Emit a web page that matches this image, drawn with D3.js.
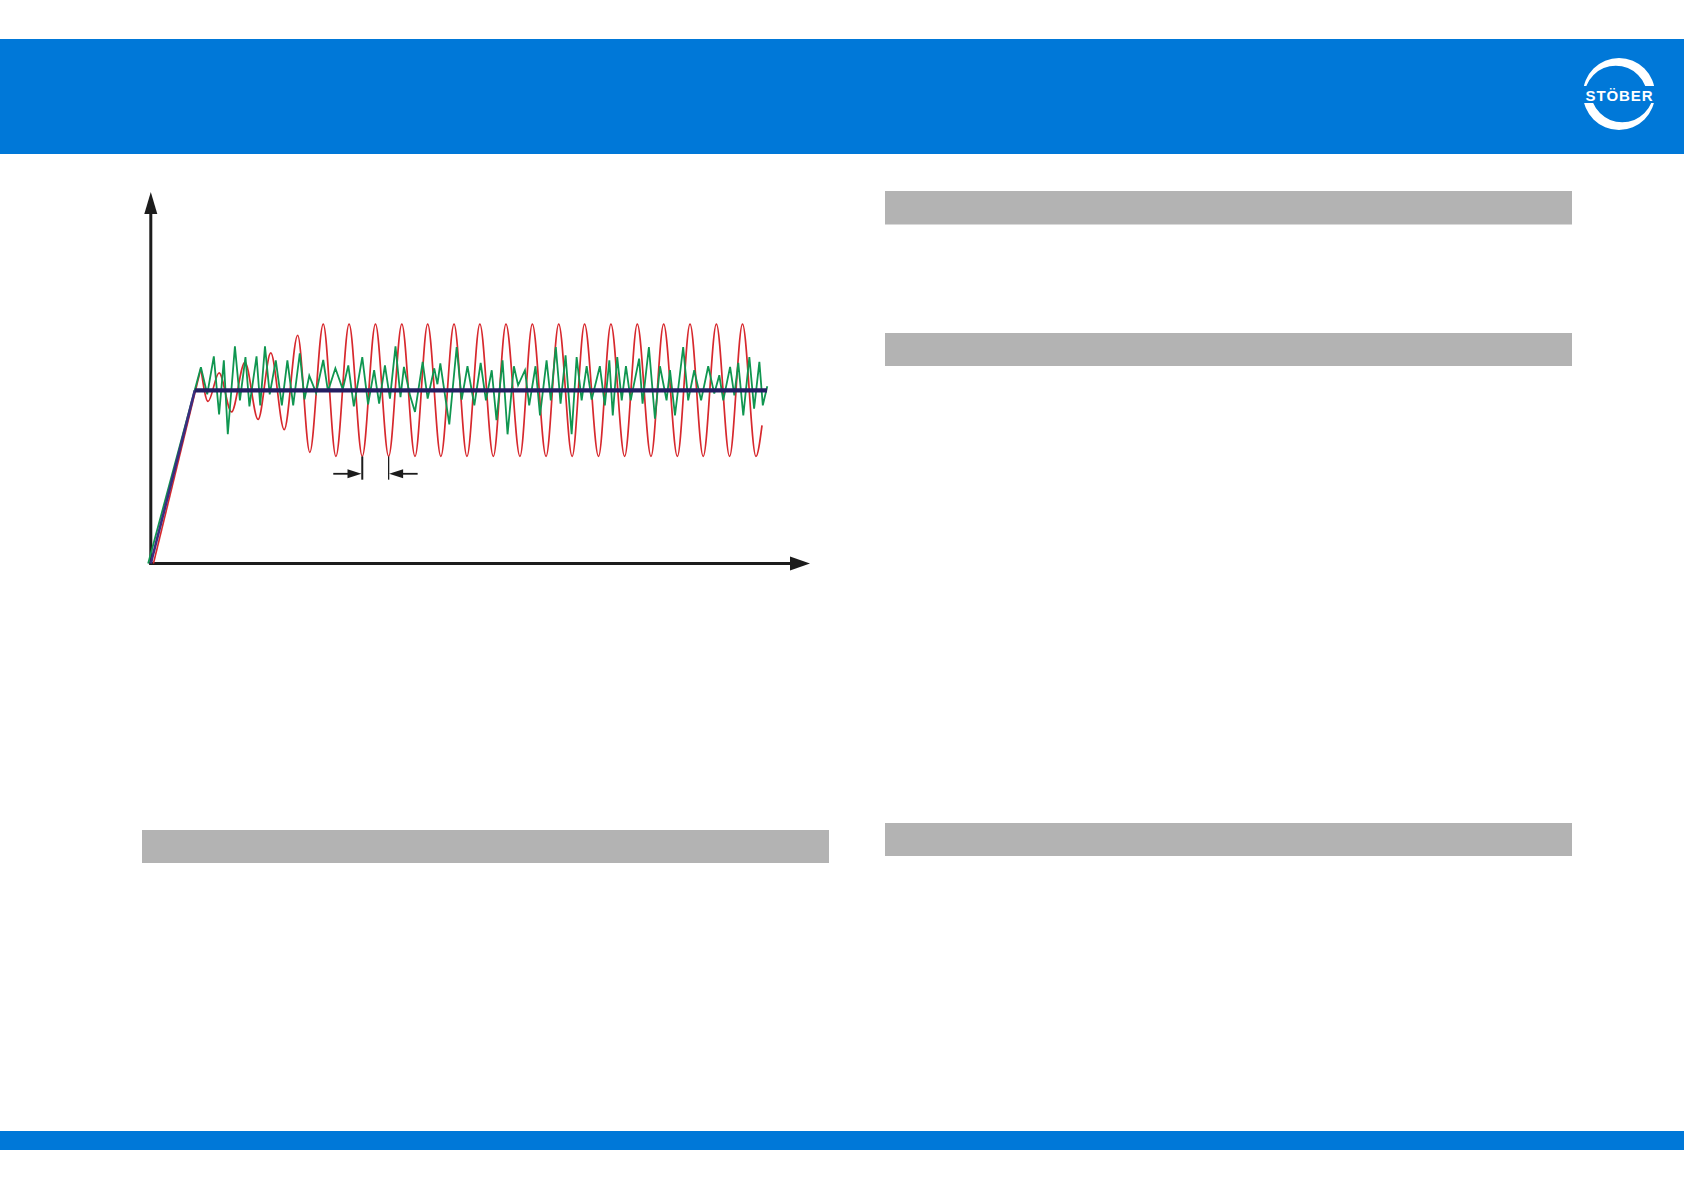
<!DOCTYPE html>
<html><head><meta charset="utf-8">
<script src="https://cdn.jsdelivr.net/npm/d3@7"></script>
<style>body{margin:0;background:#fff}svg{display:block}</style>
</head><body>
<svg id="page" width="1684" height="1190"></svg>
<script>
// ---- data (time in ms-like units, value in % of setpoint) ----
const xDomain = [0, 250];
const yDomain = [0, 214.5];
const setpoint = [[0,0],[16.7,100],[233.7,100]];
const redRamp = [[1.0,0],[19.0,112.7]];
const redExtrema = [
 [19.0,112.7],[21.7,93.6],[25.9,110.1],[30.6,87.5],[35.7,116.2],[40.7,83.2],[45.5,121.6],[50.6,77.3],
 [55.7,131.8],[60.3,64.2],[65.4,138.2],[70.2,61.8],[75.2,138.2],[80.2,61.8],[85.2,138.2],[90.2,61.8],
 [95.2,138.2],[100.2,61.8],[105.0,138.2],[110.0,61.8],[115.0,138.2],[119.9,61.8],[124.8,138.2],[129.9,61.8],
 [134.7,138.2],[140.0,61.8],[144.7,138.2],[149.9,61.8],[154.7,138.2],[159.8,61.8],[164.5,138.2],[169.8,61.8],
 [174.5,138.2],[179.7,61.8],[184.5,138.2],[189.7,61.8],[194.5,138.2],[199.7,61.8],[204.5,138.2],[209.5,61.8],
 [214.5,138.2],[219.5,61.8],[224.4,138.2],[229.5,61.8],[231.8,79.8]
];
const greenSignal = [
 [-1.0,0],[19.0,113.3],[21.4,97.7],[23.9,119.6],[25.9,86.1],[27.7,117.3],[29.2,74.6],[31.9,125.4],[33.8,94.2],
 [35.9,119.2],[37.4,90.7],[40.1,119.6],[41.5,91.3],[43.3,125.4],[45.1,97.7],[47.4,117.3],[49.7,91.3],[51.8,117.3],
 [54.0,91.3],[56.5,121.4],[58.3,94.8],[60.1,108.4],[62.7,98.5],[65.4,117.5],[67.2,99.4],[70.0,112.7],[72.8,100.6],
 [74.9,114.4],[77.0,90.7],[80.2,119.2],[82.4,91.9],[84.7,111.6],[86.6,92.3],[88.8,114.4],[90.7,95.2],[92.8,125.4],
 [94.7,96.1],[96.0,113.5],[98.3,97.1],[100.2,87.5],[103.1,116.4],[105.0,95.2],[107.5,112.7],[108.7,103.5],[109.8,115.6],
 [113.2,80.3],[116.0,125.0],[117.9,94.6],[120.1,113.9],[122.7,91.3],[125.1,115.8],[127.1,94.2],[129.3,111.6],[131.1,82.7],
 [133.4,117.3],[135.3,74.6],[137.7,113.9],[139.3,102.9],[141.9,111.6],[143.5,91.3],[145.9,113.9],[147.6,85.5],[150.1,117.3],
 [151.7,94.2],[153.6,125.0],[155.4,92.3],[157.3,120.2],[159.6,74.6],[161.5,119.2],[163.4,94.2],[165.3,113.9],[167.2,94.6],
 [170.3,113.9],[172.2,91.3],[173.9,117.3],[175.2,85.5],[176.9,119.2],[178.6,94.2],[180.2,113.9],[182.0,94.2],[185.2,118.3],
 [186.5,92.3],[188.9,125.0],[191.2,83.6],[193.1,113.9],[195.6,94.2],[196.9,111.6],[198.8,85.5],[201.9,125.0],[203.8,94.2],
 [206.1,111.6],[208.7,94.2],[211.4,113.9],[213.7,98.1],[215.6,108.7],[217.1,94.2],[219.7,113.5],[221.3,97.1],[222.8,115.8],
 [224.7,85.5],[227.0,119.2],[228.8,89.4],[230.8,116.4],[232.1,91.3],[233.8,102.3]
];
const periodMarker = {from: 80.2, to: 90.2, level: 51.8, tickLow: 48.4, tickHigh: 61.8, tail: 11};
const grayBars = [
 {x0:142, x1:829, y0:830, y1:863},
 {x0:885, x1:1572, y0:191, y1:224.5},
 {x0:885, x1:1572, y0:333, y1:366},
 {x0:885, x1:1572, y0:823, y1:856}
];

const svg = d3.select('#page');
const BLUE = '#0078d8';

// header & footer bands
svg.append('rect').attr('x',0).attr('y',39).attr('width',1684).attr('height',115).attr('fill',BLUE);
svg.append('rect').attr('x',0).attr('y',1131).attr('width',1684).attr('height',19).attr('fill',BLUE);

// logo
(function(){
  const cx=1619, cy=94, R=36, r=31.5;
  const g = svg.append('g');
  const defs = svg.append('defs');
  defs.append('clipPath').attr('id','cu').append('rect').attr('x',cx-50).attr('y',cy-50).attr('width',100).attr('height',42);
  defs.append('clipPath').attr('id','cl').append('rect').attr('x',cx-50).attr('y',cy+9).attr('width',100).attr('height',45);
  function crescent(dx,dy){
    const p=d3.path();
    p.moveTo(cx+R,cy); p.arc(cx,cy,R,0,2*Math.PI);
    p.moveTo(cx+dx+r,cy+dy); p.arc(cx+dx,cy+dy,r,0,2*Math.PI);
    return p.toString();
  }
  g.append('path').attr('d',crescent(-3.2,3.2)).attr('fill','#fff').attr('fill-rule','evenodd').attr('clip-path','url(#cu)');
  g.append('path').attr('d',crescent(3.2,-3.2)).attr('fill','#fff').attr('fill-rule','evenodd').attr('clip-path','url(#cl)');
  g.append('text').attr('x',cx).attr('y',cy+6.5).attr('text-anchor','middle')
   .attr('font-family','Liberation Sans, Arial, sans-serif').attr('font-weight','bold').attr('font-size',15)
   .attr('textLength',67).attr('lengthAdjust','spacing').attr('fill','#fff').text('STÖBER');
})();

// gray section bars
svg.selectAll('rect.bar').data(grayBars).enter().append('rect').attr('class','bar')
  .attr('x',d=>d.x0).attr('y',d=>d.y0).attr('width',d=>d.x1-d.x0).attr('height',d=>d.y1-d.y0).attr('fill','#b3b3b3');

// chart
const x = d3.scaleLinear().domain(xDomain).range([150.8, 810]);
const y = d3.scaleLinear().domain(yDomain).range([563.5, 192]);
const chart = svg.append('g');
const AX='#1c1c1c';

// axes
chart.append('line').attr('x1',x(0)).attr('x2',x(0)).attr('y1',y(0)+1.5).attr('y2',y(yDomain[1])+20)
  .attr('stroke',AX).attr('stroke-width',3);
chart.append('path').attr('d',`M${x(0)},${y(yDomain[1])} L${x(0)-6.5},${y(yDomain[1])+22} L${x(0)+6.5},${y(yDomain[1])+22} Z`).attr('fill',AX);
chart.append('line').attr('x1',x(0)-1.5).attr('x2',x(xDomain[1])-18).attr('y1',y(0)).attr('y2',y(0))
  .attr('stroke',AX).attr('stroke-width',3);
chart.append('path').attr('d',`M${x(xDomain[1])},${y(0)} L${x(xDomain[1])-20},${y(0)-7} L${x(xDomain[1])-20},${y(0)+7} Z`).attr('fill',AX);

const lin = d3.line().x(d=>x(d[0])).y(d=>y(d[1]));
const smooth = d3.line().x(d=>x(d[0])).y(d=>y(d[1])).curve(d3.curveMonotoneX);

chart.append('path').attr('d',lin(redRamp)).attr('fill','none').attr('stroke','#d7282d').attr('stroke-width',1.6);
chart.append('path').attr('d',smooth(redExtrema)).attr('fill','none').attr('stroke','#d7282d').attr('stroke-width',1.7);
chart.append('path').attr('d',lin(greenSignal)).attr('fill','none').attr('stroke','#0f9650').attr('stroke-width',1.8).attr('stroke-linejoin','miter');
// ramp drawn thinner than plateau so the red / green traces stay visible along it
chart.append('path').attr('d',lin(setpoint.slice(0,2))).attr('fill','none').attr('stroke','#3a2e80').attr('stroke-width',2.6);
chart.append('path').attr('d',lin(setpoint.slice(1))).attr('fill','none').attr('stroke','#241e62').attr('stroke-width',4.2);

// period marker
const pm = periodMarker;
chart.append('line').attr('x1',x(pm.from)).attr('x2',x(pm.from)).attr('y1',y(pm.tickHigh)).attr('y2',y(pm.tickLow)).attr('stroke',AX).attr('stroke-width',2);
chart.append('line').attr('x1',x(pm.to)).attr('x2',x(pm.to)).attr('y1',y(pm.tickHigh)).attr('y2',y(pm.tickLow)).attr('stroke',AX).attr('stroke-width',1.3);
function dimArrow(tailX, tipX){
  const ty=y(pm.level), dir=Math.sign(tipX-tailX);
  chart.append('line').attr('x1',tailX).attr('x2',tipX-dir*10).attr('y1',ty).attr('y2',ty).attr('stroke',AX).attr('stroke-width',1.8);
  chart.append('path').attr('d',`M${tipX},${ty} L${tipX-dir*14},${ty-4.5} L${tipX-dir*14},${ty+4.5} Z`).attr('fill',AX);
}
dimArrow(x(pm.from-pm.tail), x(pm.from)-0.8);
dimArrow(x(pm.to+pm.tail), x(pm.to)+0.5);
</script>
</body></html>
